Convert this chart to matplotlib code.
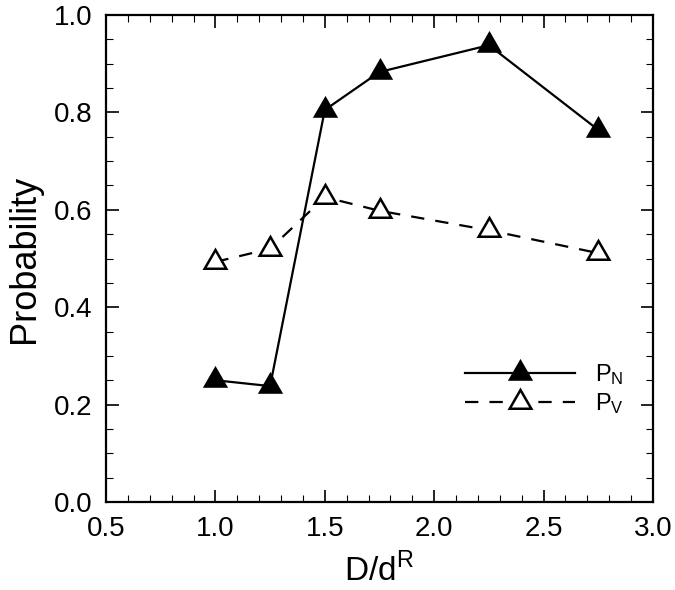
import matplotlib
matplotlib.use("Agg")
import matplotlib.pyplot as plt
from matplotlib.ticker import MultipleLocator

plt.rcParams['font.family'] = ['Liberation Sans', 'DejaVu Sans']

x_vals = [1.0, 1.25, 1.5, 1.75, 2.25, 2.75]
pn_vals = [0.25, 0.238, 0.805, 0.883, 0.938, 0.764]
pv_vals = [0.493, 0.52, 0.626, 0.598, 0.558, 0.511]
x_ticks = [0.5, 1.0, 1.5, 2.0, 2.5, 3.0]
y_ticks = [0.0, 0.2, 0.4, 0.6, 0.8, 1.0]

fig = plt.figure(figsize=(6.75, 5.9), dpi=100)
ax = fig.add_axes([106/675, 1-502/590, (653-106)/675, (502-15)/590])

tri = (3, 0, 0)
ax.plot(x_vals, pn_vals, color='black', lw=1.6, marker=tri, ms=18,
        mfc='black', mec='black', mew=1.5, label=r'$\mathregular{P_N}$')
ax.plot(x_vals, pv_vals, color='black', lw=1.6, ls=(0, (6, 5)), marker=tri, ms=18,
        mfc='white', mec='black', mew=1.8, label=r'$\mathregular{P_V}$')

ax.set_xlim(0.5, 3.0)
ax.set_ylim(0.0, 1.0)
ax.set_xticks(x_ticks)
ax.set_yticks(y_ticks)
ax.set_xticklabels([f"{t:.1f}" for t in x_ticks])
ax.set_yticklabels([f"{t:.1f}" for t in y_ticks])
ax.xaxis.set_minor_locator(MultipleLocator(0.1))
ax.yaxis.set_minor_locator(MultipleLocator(0.05))
ax.tick_params(which='both', direction='in', top=True, right=True, labelsize=20, width=1.2)
ax.tick_params(which='major', length=9, pad=10)
ax.tick_params(which='minor', length=5, width=0.8)
for s in ax.spines.values():
    s.set_linewidth(1.6)

ax.set_xlabel(r'D/d$^\mathregular{R}$', fontsize=24, labelpad=8)
ax.set_ylabel('Probability', fontsize=26, labelpad=8)

leg = ax.legend(loc='center left', bbox_to_anchor=(0.618, 0.232), frameon=False,
                fontsize=17, handlelength=4.66, handletextpad=0.85, labelspacing=0.15)

fig.savefig('out.png', dpi=100)
